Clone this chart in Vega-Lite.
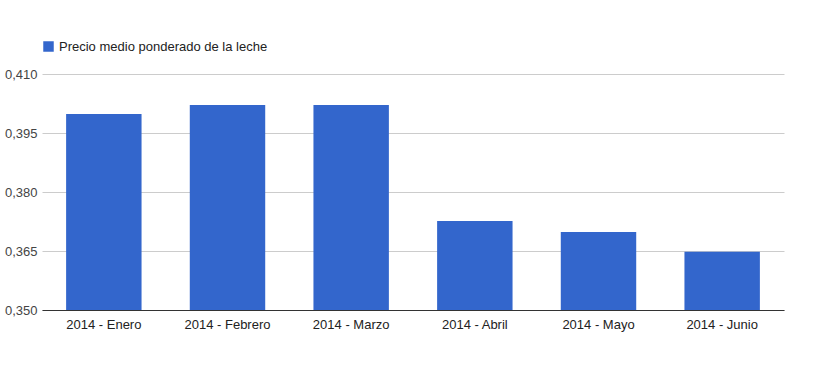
{
  "$schema": "https://vega.github.io/schema/vega-lite/v6.json",
  "autosize": {"type": "none"},
  "padding": {"left": 42, "top": 74, "right": 45, "bottom": 78},
  "width": 742,
  "height": 236,
  "background": "white",
  "data": {
    "values": [
      {"mes": "2014 - Enero", "serie": "Precio medio ponderado de la leche", "precio": 0.3998},
      {"mes": "2014 - Febrero", "serie": "Precio medio ponderado de la leche", "precio": 0.4021},
      {"mes": "2014 - Marzo", "serie": "Precio medio ponderado de la leche", "precio": 0.4021},
      {"mes": "2014 - Abril", "serie": "Precio medio ponderado de la leche", "precio": 0.3726},
      {"mes": "2014 - Mayo", "serie": "Precio medio ponderado de la leche", "precio": 0.3698},
      {"mes": "2014 - Junio", "serie": "Precio medio ponderado de la leche", "precio": 0.3648}
    ]
  },
  "mark": {"type": "bar", "clip": true},
  "encoding": {
    "x": {
      "field": "mes",
      "type": "nominal",
      "sort": null,
      "title": null,
      "scale": {"paddingInner": 0.39, "paddingOuter": 0.195},
      "axis": {
        "labelAngle": 0,
        "ticks": false,
        "domainColor": "#333333",
        "labelFont": "Liberation Sans",
        "labelFontSize": 13,
        "labelColor": "#222222",
        "labelPadding": 8
      }
    },
    "y": {
      "field": "precio",
      "type": "quantitative",
      "title": null,
      "scale": {"domain": [0.35, 0.41], "zero": false, "nice": false},
      "axis": {
        "values": [0.35, 0.365, 0.38, 0.395, 0.41],
        "labelExpr": "replace(format(datum.value, '.3f'), '.', ',')",
        "domain": false,
        "ticks": false,
        "gridColor": "#cccccc",
        "labelFont": "Liberation Sans",
        "labelFontSize": 13,
        "labelColor": "#444444",
        "labelPadding": 5
      }
    },
    "color": {
      "field": "serie",
      "type": "nominal",
      "scale": {"range": ["#3366cc"]},
      "legend": {
        "orient": "top",
        "title": null,
        "symbolType": "square",
        "symbolSize": 110,
        "symbolStrokeWidth": 0,
        "labelFont": "Liberation Sans",
        "labelFontSize": 13,
        "labelColor": "#222222",
        "labelLimit": 0,
        "offset": 20
      }
    }
  },
  "config": {"view": {"stroke": null}}
}
